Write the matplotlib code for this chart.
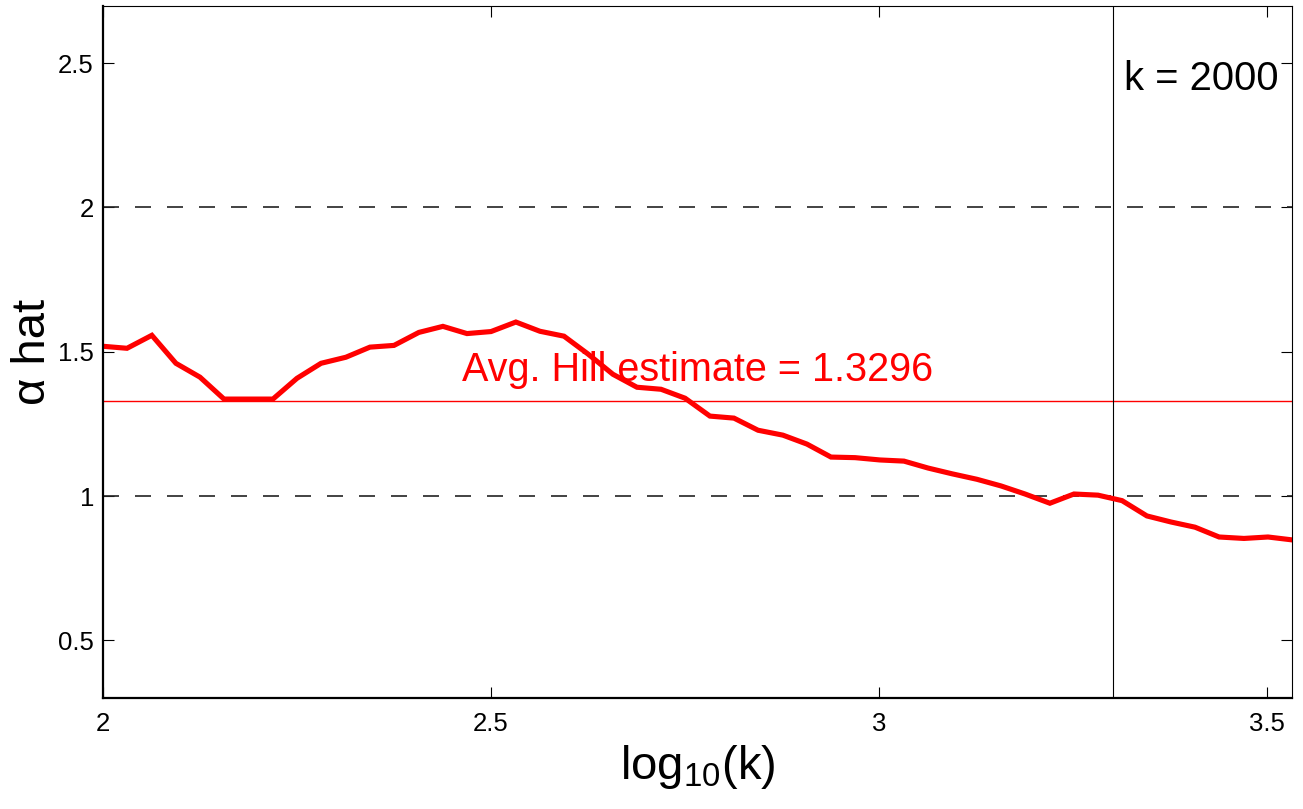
import matplotlib
matplotlib.use("Agg")
import numpy as np
from matplotlib import pyplot as plt

plt.rcParams['font.family'] = ['Liberation Sans', 'DejaVu Sans']
plt.rcParams['mathtext.fontset'] = 'custom'
plt.rcParams['mathtext.rm'] = 'Liberation Sans'
plt.rcParams['mathtext.it'] = 'Liberation Sans:italic'

# log10(k) grid and Hill estimates
log_k = [2.000, 2.031, 2.063, 2.094, 2.125, 2.156, 2.188, 2.219, 2.250, 2.281,
         2.313, 2.344, 2.375, 2.407, 2.438, 2.469, 2.500, 2.532, 2.563, 2.594,
         2.625, 2.657, 2.688, 2.719, 2.750, 2.782, 2.813, 2.844, 2.876, 2.907,
         2.938, 2.969, 3.001, 3.032, 3.063, 3.094, 3.126, 3.157, 3.188, 3.220,
         3.251, 3.282, 3.313, 3.345, 3.376, 3.407, 3.438, 3.470, 3.501, 3.532]
alpha_hat = [1.519, 1.512, 1.557, 1.460, 1.412, 1.336, 1.336, 1.336, 1.408, 1.460,
             1.481, 1.516, 1.522, 1.567, 1.588, 1.563, 1.570, 1.603, 1.571, 1.554,
             1.492, 1.422, 1.377, 1.370, 1.339, 1.277, 1.270, 1.228, 1.211, 1.180,
             1.135, 1.133, 1.125, 1.121, 1.097, 1.077, 1.058, 1.035, 1.007, 0.975,
             1.007, 1.003, 0.984, 0.931, 0.910, 0.892, 0.858, 0.853, 0.858, 0.848]
avg_hill = 1.3296
k_chosen = 2000
ref_levels = [1, 2]

x_ticks = [2, 2.5, 3, 3.5]
x_ticklabels = ['2', '2.5', '3', '3.5']
y_ticks = [0.5, 1, 1.5, 2, 2.5]
y_ticklabels = ['0.5', '1', '1.5', '2', '2.5']

fig = plt.figure(figsize=(13.03, 8.09), dpi=100)
ax = fig.add_axes([0.079, 0.1372, 0.9126, 0.856])

for lev in ref_levels:
    ax.axhline(lev, color='#222222', lw=1.2, dashes=(9.6, 9.6))
ax.axhline(avg_hill, color='red', lw=1.0)
ax.axvline(np.log10(k_chosen), color='black', lw=0.8)
ax.plot(log_k, alpha_hat, color='red', lw=3.7, solid_joinstyle='miter')

ax.text(2.462, 1.40, 'Avg. Hill estimate = %.4f' % avg_hill, color='red',
        fontsize=28.5, va='baseline', ha='left')
ax.text(3.316, 2.408, 'k = %d' % k_chosen, color='black',
        fontsize=28.8, va='baseline', ha='left')

ax.set_xlim(2, 3.532)
ax.set_ylim(0.3, 2.7)
ax.set_xticks(x_ticks)
ax.set_xticklabels(x_ticklabels)
ax.set_yticks(y_ticks)
ax.set_yticklabels(y_ticklabels)
ax.tick_params(direction='in', length=8, width=0.8, labelsize=18.5,
               top=True, right=True)
ax.tick_params(axis='x', pad=10)
ax.tick_params(axis='y', pad=6.5)

for s in ['left', 'bottom']:
    ax.spines[s].set_linewidth(1.6)
for s in ['top', 'right']:
    ax.spines[s].set_linewidth(0.8)

ax.set_xlabel('log$_{\\mathrm{10}}$(k)', fontsize=34, va='baseline')
ax.xaxis.set_label_coords(0.5, -0.117)
ax.set_ylabel('α hat', fontsize=34, va='baseline')
ax.yaxis.set_label_coords(-0.0488, 0.5)

fig.savefig('out.png', dpi=100)
